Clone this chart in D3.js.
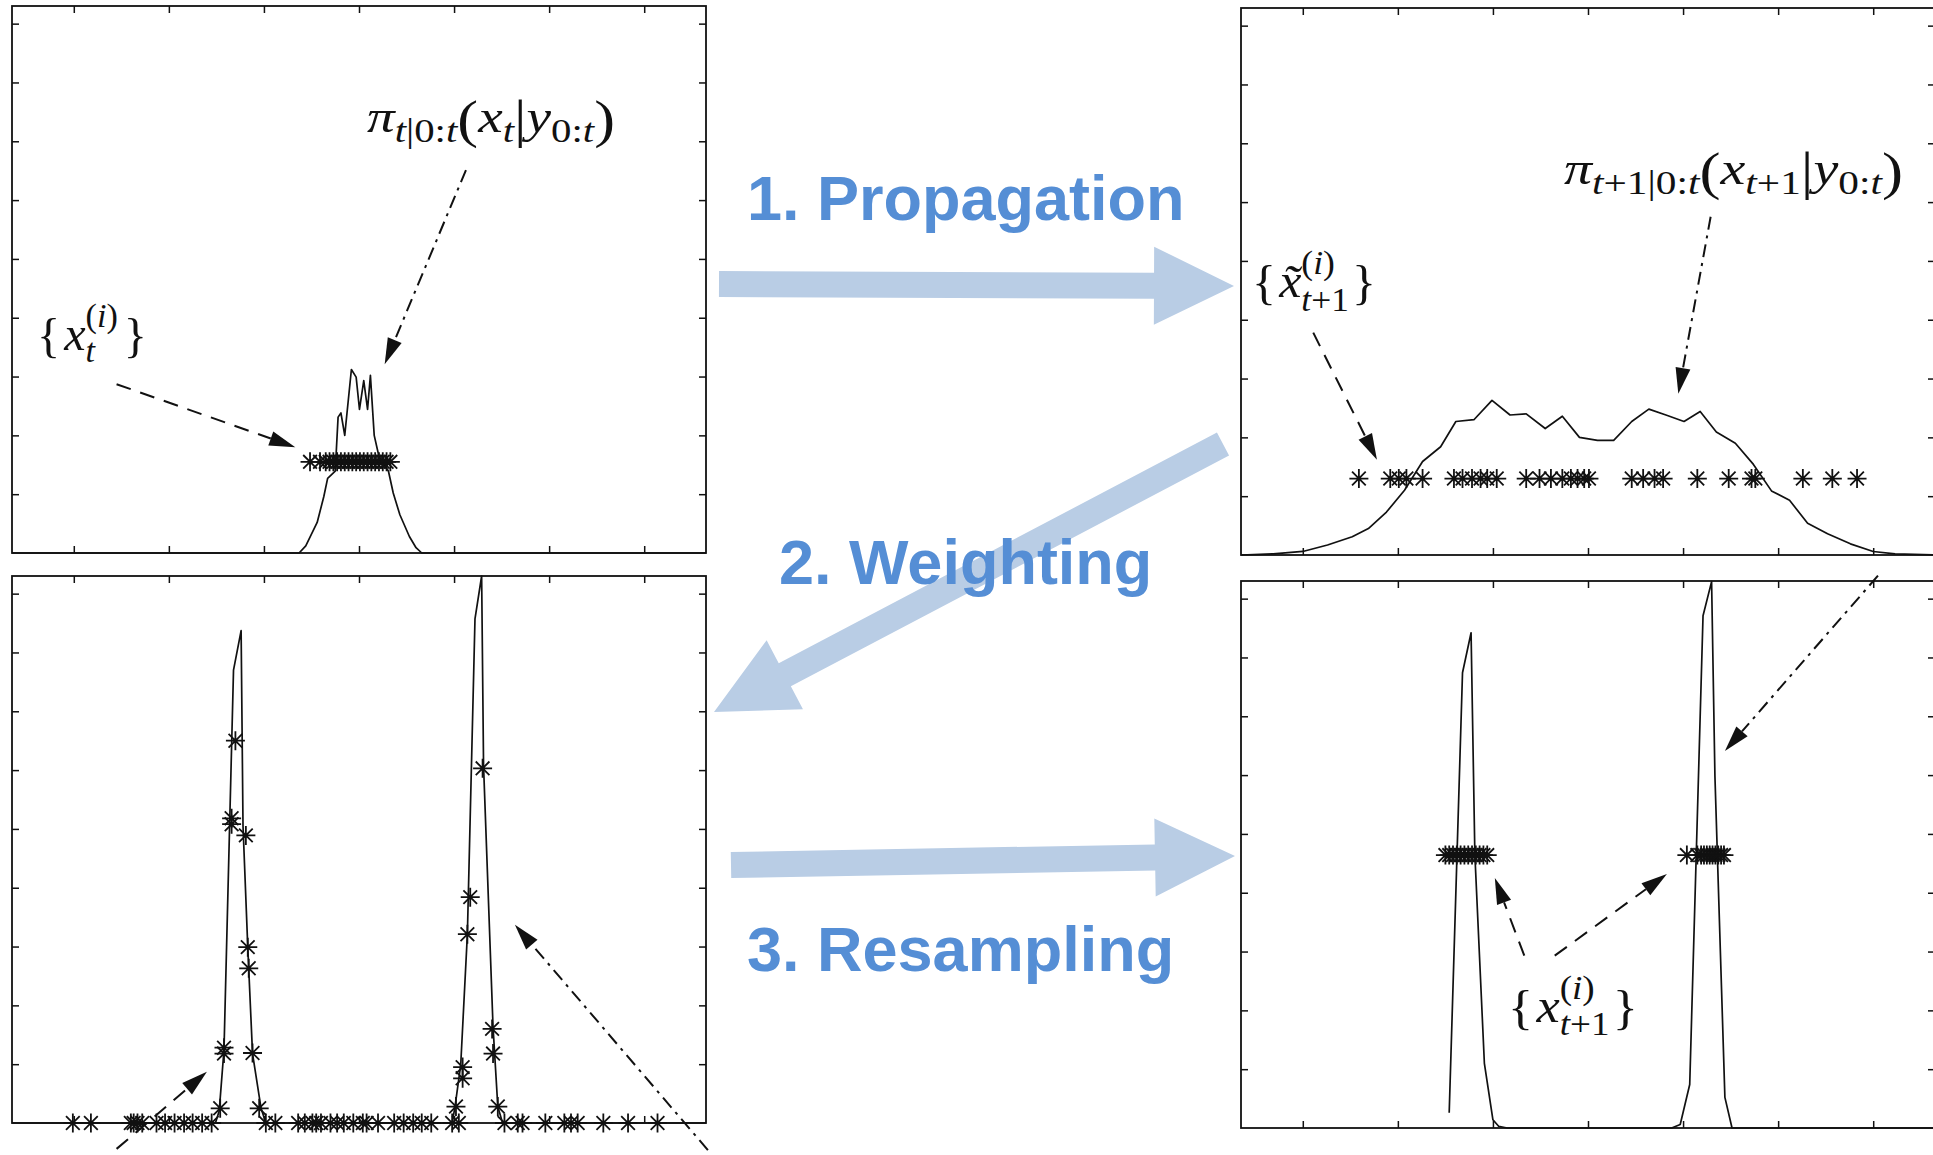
<!DOCTYPE html>
<html>
<head>
<meta charset="utf-8">
<script src="https://cdnjs.cloudflare.com/ajax/libs/d3/7.8.5/d3.min.js"></script>
<style>
body { margin: 0; background: #fff; overflow: hidden; }
</style>
</head>
<body>
<script>
// ---------------- data ----------------
const xTicks = [-3, -2, -1, 0, 1, 2, 3];
const yTicks = [1, 2, 3, 4, 5, 6, 7, 8, 9];

// top left: filtering density at t and its particles
const priorCurve = [[-3.65,0],[-0.63,0],[-0.56,0.12],[-0.44,0.52],[-0.37,0.96],[-0.33,1.27],[-0.25,1.39],
  [-0.22,2.31],[-0.19,2.38],[-0.15,2.0],[-0.08,3.12],[-0.03,2.99],[0.005,2.44],[0.05,2.93],[0.09,2.44],
  [0.12,3.02],[0.16,2.0],[0.21,1.64],[0.31,1.39],[0.36,1.02],[0.43,0.65],[0.53,0.28],[0.60,0.09],[0.66,0],[3.65,0]];
const priorParticles = [-0.515,-0.41,-0.35,-0.31,-0.27,-0.23,-0.19,-0.15,-0.11,-0.07,-0.03,0.01,0.05,0.09,
  0.13,0.17,0.21,0.25,0.29,0.33];
const priorLevel = 1.55;

// top right: predicted density at t+1 and propagated particles
const predCurve = [[-3.65,0],[-3.31,0.02],[-3.0,0.06],[-2.74,0.17],[-2.48,0.31],[-2.31,0.45],[-2.12,0.73],
  [-1.93,1.1],[-1.74,1.59],[-1.55,1.84],[-1.39,2.27],[-1.2,2.3],[-1.01,2.63],[-0.82,2.38],[-0.65,2.4],
  [-0.45,2.15],[-0.27,2.36],[-0.09,2.0],[0.1,1.95],[0.27,1.95],[0.46,2.27],[0.64,2.48],[0.82,2.38],
  [1.01,2.27],[1.18,2.44],[1.35,2.09],[1.55,1.9],[1.74,1.54],[1.93,1.09],[2.12,0.93],[2.31,0.54],
  [2.52,0.36],[2.76,0.19],[3.0,0.06],[3.23,0.02],[3.65,0]];
const predParticles = [-2.41,-2.08,-1.99,-1.91,-1.74,-1.41,-1.32,-1.22,-1.13,-1.06,-0.96,-0.65,-0.51,-0.39,
  -0.27,-0.18,-0.11,-0.04,0.01,0.46,0.58,0.70,0.79,1.15,1.48,1.72,1.76,2.26,2.57,2.83];
const predLevel = 1.30;

// bottom left: weighted density and weighted particles
const weightCurve = [[-3.65,0],[-1.51,0],[-1.47,0.21],[-1.42,1.25],[-1.36,5.12],[-1.32,7.7],[-1.24,8.37],
  [-1.22,5.05],[-1.17,2.99],[-1.12,1.18],[-1.03,0.25],[-0.98,0],[0.98,0],[1.01,0.28],[1.07,0.99],
  [1.14,3.21],[1.22,8.57],[1.29,9.3],[1.31,6.08],[1.41,1.63],[1.46,0.28],[1.51,0],[3.65,0]];
const weightX = [-1.30,-1.34,-1.34,-1.19,-1.17,-1.16,-1.42,-1.42,-1.12,-1.46,-1.05,
  1.30,1.17,1.14,1.40,1.41,1.09,1.09,1.02,1.46,
  -3.01,-2.82,-2.40,-2.37,-2.33,-2.28,-2.13,-2.04,-1.94,-1.84,-1.75,-1.65,-1.55,-0.98,-0.88,-0.64,-0.57,
  -0.49,-0.45,-0.40,-0.30,-0.23,-0.16,-0.06,0.04,0.08,0.20,0.37,0.47,0.57,0.66,0.76,0.98,1.05,1.53,1.67,
  1.72,1.96,2.16,2.23,2.30,2.57,2.83,3.14];
const weightW = [6.5,5.18,5.08,4.89,2.99,2.63,1.28,1.18,1.19,0.25,0.25,
  6.03,3.84,3.21,1.6,1.18,0.95,0.76,0.28,0.28,
  0,0,0,0,0,0,0,0,0,0,0,0,0,0,0,0,0,0,0,0,0,0,0,0,0,0,0,0,0,0,0,0,0,0,0,0,0,0,0,0,0,0,0,0];

// bottom right: filtering density at t+1 and resampled particles
const postCurve = [[-1.46,0.26],[-1.32,7.74],[-1.23,8.42],[-1.19,4.65],[-1.09,1.10],[-1.0,0.14],
  [-0.94,0.03],[-0.85,0],[0.88,0],[0.97,0.06],[1.07,0.74],[1.21,8.71],[1.30,9.29],[1.335,5.99],
  [1.44,0.52],[1.515,0],[3.65,0]];
const postParticles = [-1.50,-1.46,-1.42,-1.38,-1.34,-1.30,-1.26,-1.22,-1.18,-1.14,-1.10,-1.06,
  1.04,1.15,1.19,1.22,1.25,1.28,1.31,1.34,1.37,1.40,1.43];
const postLevel = 4.64;

const stepLabels = ["1. Propagation", "2. Weighting", "3. Resampling"];

// ---------------- layout ----------------
const W = 1933, H = 1155;
const panelW = 694, panelH = 547;
const xDomain = [-3.65, 3.65], yDomain = [0, 9.3];
const tickLen = 7;

const panels = [
  {left: 12,   top: 6,   curve: priorCurve,  pts: priorParticles.map(v => [v, priorLevel])},
  {left: 1241, top: 8,   curve: predCurve,   pts: predParticles.map(v => [v, predLevel])},
  {left: 12,   top: 576, curve: weightCurve, pts: weightX.map((v, i) => [v, weightW[i]])},
  {left: 1241, top: 581, curve: postCurve,   pts: postParticles.map(v => [v, postLevel])}
];

// annotation arrows, in each panel's data units
const pointers = [
  {panel: 0, dash: "13,6,3,6", from: [1.125, 6.51], to: [0.27, 3.21]},
  {panel: 0, dash: "15,10",    from: [-2.55, 2.87], to: [-0.67, 1.80]},
  {panel: 1, dash: "13,6,3,6", from: [1.29, 5.75],  to: [0.95, 2.74]},
  {panel: 1, dash: "15,10",    from: [-2.89, 3.78], to: [-2.22, 1.62]},
  {panel: 2, dash: "15,10",    from: [-2.55, -0.44], to: [-1.60, 0.87]},
  {panel: 2, dash: "13,6,3,6", from: [3.67, -0.46], to: [1.64, 3.37]},
  {panel: 3, dash: "13,6,3,6", from: [3.05, 9.39],  to: [1.44, 6.41]},
  {panel: 3, dash: "15,10",    from: [-0.67, 2.93], to: [-0.98, 4.25]},
  {panel: 3, dash: "15,10",    from: [-0.35, 2.93], to: [0.83, 4.32]}
];

const it = (t, fs, dy) => ({t, it: true, fs, dy});
const rm = (t, fs, dy) => ({t, fs, dy});
const N = 46, S = 34, B = 52;
const supI = [rm("(", 34, -23), it("i", 34, -23), rm(")", 34, -23)];

const labels = [
  {panel: 0, at: [0.084, 7.16], width: 248, pieces: [
    it("π", N), it("t", S, 10), rm("|", S, 10), rm("0:", S, 10), it("t", S, 10),
    rm("(", B, 5), it("x", N), it("t", S, 10), rm("|", B, 5), it("y", N),
    rm("0:", S, 10), it("t", S, 10), rm(")", B, 5)]},
  {panel: 0, at: [-3.387, 3.45], width: 110, pieces: [
    rm("{", 48, 2), {gap: 4}, it("x", 48), {stack: [supI, [it("t", 34, 12)]]}, {gap: 6}, rm("}", 48, 2)]},
  {panel: 1, at: [-0.252, 6.31], width: 339, pieces: [
    it("π", N), it("t", S, 10), rm("+1|0:", S, 10), it("t", S, 10),
    rm("(", B, 5), it("x", N), it("t", S, 10), rm("+1", S, 10), rm("|", B, 5), it("y", N),
    rm("0:", S, 10), it("t", S, 10), rm(")", B, 5)]},
  {panel: 1, at: [-3.534, 4.39], width: 124, pieces: [
    rm("{", 48, 2), {gap: 3}, it("x\u0303", 48),
    {stack: [supI, [it("t", 34, 14), rm("+1", 34, 14)]]}, {gap: 3}, rm("}", 48, 2)]},
  {panel: 3, at: [-0.842, 1.80], width: 130, pieces: [
    rm("{", 48, 2), {gap: 3}, it("x", 48),
    {stack: [supI, [it("t", 34, 13), rm("+1", 34, 13)]]}, {gap: 3}, rm("}", 48, 2)]}
];

// big block arrows between the panels, page pixels
const flow = [
  {from: [719, 284],  to: [1234, 286], text: [747, 220]},
  {from: [1223, 444], to: [714, 712],  text: [779, 584]},
  {from: [731, 865],  to: [1235, 856], text: [747, 971]}
];

// ---------------- drawing ----------------
const svg = d3.select("body").append("svg")
  .attr("width", W).attr("height", H)
  .style("background", "#fff");

const starPath = (r => {
  const d = r * 0.72;
  return `M${-r},0H${r}M0,${-r}V${r}M${-d},${-d}L${d},${d}M${-d},${d}L${d},${-d}`;
})(9.5);

panels.forEach(p => {
  p.x = d3.scaleLinear().domain(xDomain).range([p.left, p.left + panelW]);
  p.y = d3.scaleLinear().domain(yDomain).range([p.top + panelH, p.top]);
  const g = svg.append("g");
  const noText = ax => ax.tickFormat("").tickSizeOuter(0);

  const axes = [
    [d3.axisBottom(p.x).tickValues(xTicks).tickSizeInner(-tickLen), `translate(0,${p.top + panelH})`],
    [d3.axisTop(p.x).tickValues(xTicks).tickSizeInner(-tickLen), `translate(0,${p.top})`],
    [d3.axisLeft(p.y).tickValues(yTicks).tickSizeInner(-tickLen), `translate(${p.left},0)`],
    [d3.axisRight(p.y).tickValues(yTicks).tickSizeInner(-tickLen), `translate(${p.left + panelW},0)`]
  ];
  axes.forEach(([ax, tr]) => {
    g.append("g").attr("transform", tr).call(noText(ax))
      .call(s => s.select(".domain").remove())
      .selectAll("line").attr("stroke", "#111").attr("stroke-width", 1.5);
  });

  g.append("path")
    .attr("d", d3.line().x(d => p.x(d[0])).y(d => p.y(d[1]))(p.curve))
    .attr("fill", "none").attr("stroke", "#111").attr("stroke-width", 1.7)
    .attr("stroke-linejoin", "round");

  g.selectAll("path.star").data(p.pts).enter().append("path")
    .attr("class", "star")
    .attr("transform", d => `translate(${p.x(d[0])},${p.y(d[1])})`)
    .attr("d", starPath)
    .attr("fill", "none").attr("stroke", "#111").attr("stroke-width", 1.8);

  g.append("rect")
    .attr("x", p.left).attr("y", p.top).attr("width", panelW).attr("height", panelH)
    .attr("fill", "none").attr("stroke", "#111").attr("stroke-width", 1.8);
});

// pointer arrows
pointers.forEach(a => {
  const p = panels[a.panel];
  const x0 = p.x(a.from[0]), y0 = p.y(a.from[1]);
  const x1 = p.x(a.to[0]), y1 = p.y(a.to[1]);
  const L = Math.hypot(x1 - x0, y1 - y0), ux = (x1 - x0) / L, uy = (y1 - y0) / L;
  const hl = 26, hw = 7.5;
  const bx = x1 - ux * hl, by = y1 - uy * hl;
  svg.append("line")
    .attr("x1", x0).attr("y1", y0).attr("x2", bx).attr("y2", by)
    .attr("stroke", "#111").attr("stroke-width", 2).attr("stroke-dasharray", a.dash);
  svg.append("path")
    .attr("d", `M${x1},${y1}L${bx - uy * hw},${by + ux * hw}L${bx + uy * hw},${by - ux * hw}Z`)
    .attr("fill", "#111");
});

// math labels
function putRun(g, x0, run) {
  let cx = x0;
  run.forEach(q => {
    if (q.gap) { cx += q.gap; return; }
    const t = g.append("text").attr("x", cx).attr("y", q.dy || 0)
      .attr("font-size", q.fs).attr("font-style", q.it ? "italic" : "normal").text(q.t);
    cx += t.node().getComputedTextLength();
  });
  return cx - x0;
}

labels.forEach(l => {
  const p = panels[l.panel];
  const g = svg.append("g")
    .attr("font-family", "'Liberation Serif', 'DejaVu Serif', serif")
    .attr("fill", "#111");
  let cx = 0;
  l.pieces.forEach(q => {
    if (q.stack) cx += d3.max(q.stack.map(run => putRun(g, cx, run)));
    else cx += putRun(g, cx, [q]);
  });
  g.attr("transform", `translate(${p.x(l.at[0])},${p.y(l.at[1])}) scale(${l.width / cx},1)`);
});

// block arrows and step names
function blockArrow(from, to) {
  const shaft = 13, head = 39, headLen = 80;
  const dx = to[0] - from[0], dy = to[1] - from[1], L = Math.hypot(dx, dy);
  const ux = dx / L, uy = dy / L, nx = -uy, ny = ux;
  const bx = to[0] - ux * headLen, by = to[1] - uy * headLen;
  return [
    [from[0] + nx * shaft, from[1] + ny * shaft],
    [bx + nx * shaft, by + ny * shaft],
    [bx + nx * head, by + ny * head],
    to,
    [bx - nx * head, by - ny * head],
    [bx - nx * shaft, by - ny * shaft],
    [from[0] - nx * shaft, from[1] - ny * shaft]
  ];
}

svg.selectAll("path.flow").data(flow).enter().append("path")
  .attr("class", "flow")
  .attr("d", d => d3.line()(blockArrow(d.from, d.to)) + "Z")
  .attr("fill", "#b9cde5");

svg.selectAll("text.step").data(flow).enter().append("text")
  .attr("class", "step")
  .attr("x", d => d.text[0]).attr("y", d => d.text[1])
  .attr("font-family", "'Liberation Sans', Arial, sans-serif")
  .attr("font-weight", "bold").attr("font-size", 63)
  .attr("fill", "#558ed5")
  .text((d, i) => stepLabels[i]);
</script>
</body>
</html>
